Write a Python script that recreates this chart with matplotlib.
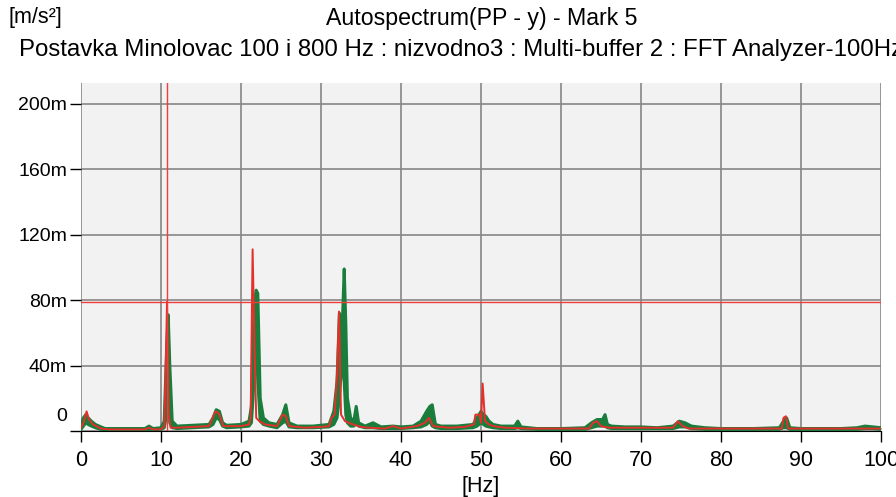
import matplotlib.pyplot as plt
from matplotlib.transforms import ScaledTranslation

plt.rcParams['font.family'] = ['Liberation Sans', 'DejaVu Sans']

# spektar - vise buffera (zeleno), gornja i donja ovojnica, vrijednosti u m (mili m/s2)
green_f = [0, 0.3, 0.6, 0.9, 1.3, 1.8, 2.5, 3.0, 5, 8,
           8.5, 9, 10.0, 10.4, 10.7, 10.9, 11.1, 11.4, 12, 14,
           16, 16.5, 16.9, 17.3, 17.7, 18.2, 20, 21.0, 21.3, 21.5,
           21.7, 21.9, 22.1, 22.4, 22.8, 23.5, 24.5, 25.2, 25.6, 26.0,
           27, 29, 31, 31.6, 32.0, 32.3, 32.5, 32.7, 32.9, 33.1,
           33.3, 33.7, 34.1, 34.4, 34.7, 35.5, 36.5, 37.5, 39, 40,
           41.5, 42.5, 43.2, 43.6, 43.9, 44.3, 45, 47, 49, 49.5,
           50.0, 50.3, 50.6, 51, 51.5, 52.5, 54.2, 54.6, 55, 57,
           60, 63.0, 63.8, 64.5, 65.2, 65.5, 65.8, 66.3, 68, 70,
           72, 74, 74.8, 75.5, 76.3, 78, 80, 84, 87.3, 87.8,
           88.2, 88.6, 90, 95, 97, 98, 99, 100]
green_hi = [4, 8, 10, 8, 6, 4, 2.5, 1.5, 1.5, 1.5,
            3, 1.5, 2, 6, 50, 71, 40, 6, 3, 3.5,
            4, 8, 13, 12, 5, 3.5, 4, 6, 15, 58,
            80, 86, 84, 20, 8, 5, 4, 10, 16, 5,
            3, 3, 4, 12, 30, 72, 68, 70, 99, 65,
            20, 8, 6, 15, 5, 3, 5, 2.5, 3, 2.5,
            3, 6, 12, 15, 16, 4, 3, 3, 4, 8,
            12, 10, 9, 6, 4, 3, 3, 6, 2.5, 1.5,
            1.5, 2, 5, 7, 7, 10, 4, 3, 2.5, 2.5,
            2, 3, 6, 5, 3, 2, 1.5, 1.5, 2, 6,
            8, 2, 1.5, 1.5, 2, 3, 2.5, 2]
green_lo = [1, 3, 5, 4, 3, 2, 1, 0.8, 0.8, 0.8,
            1, 0.8, 1, 2, 10, 30, 5, 2, 1.5, 2,
            2.5, 4, 8, 7, 3, 2, 2.5, 3, 5, 20,
            40, 55, 30, 6, 4, 3, 2, 5, 6, 2.5,
            2, 2, 2.5, 4, 8, 20, 35, 40, 30, 10,
            5, 3, 3, 5, 3, 2, 2, 1.5, 1.5, 1.5,
            2, 2.5, 4, 6, 3, 2, 1.5, 1.5, 2, 3,
            5, 4, 3, 2.5, 2, 1.5, 1.5, 2, 1.5, 1,
            1, 1, 2, 3, 3, 3, 2, 1.5, 1.5, 1.5,
            1.5, 1.5, 2.5, 2.5, 1.5, 1, 1, 1, 1, 2,
            2, 1, 1, 1, 1, 1.5, 1.5, 1]

# prosjek (crveno)
red_f = [0, 0.3, 0.7, 1.0, 1.5, 2.5, 3.5, 8.0, 8.5, 9.0,
         10.0, 10.4, 10.6, 10.75, 10.95, 11.2, 12, 14, 16, 16.8,
         17.2, 17.8, 20, 21.0, 21.2, 21.45, 21.7, 21.9, 22.3, 23,
         24.5, 25.2, 25.6, 26, 28, 30, 31, 31.3, 31.7, 32.0,
         32.25, 32.5, 33, 33.5, 34, 35, 36, 38, 39, 40,
         42, 43, 43.5, 44, 46, 48, 49.1, 49.3, 49.8, 50.0,
         50.2, 50.5, 51, 51.5, 53, 56, 63.5, 64, 64.5, 65,
         66, 74, 74.6, 75.2, 76, 87.6, 87.8, 88.1, 88.4, 100]
red_v = [2, 5, 12, 7, 4, 1.5, 1, 1, 2, 1,
         1, 3, 40, 79, 10, 2, 2, 2.5, 3, 12,
         11, 3, 3, 4, 8, 111, 50, 8, 6, 4,
         3, 10, 9, 3, 2, 2.5, 3, 8, 10, 35,
         73, 10, 6, 5, 4, 2.5, 2, 1.5, 3, 1.5,
         3, 5, 8, 3, 2, 2.5, 4, 10, 10, 5,
         29, 6, 4, 3, 2, 1.5, 1.5, 5, 6, 3,
         2, 2, 6, 3, 1.5, 1.5, 8, 9, 1.5, 1.5]

mark_f = 10.75
mark_v = 79

x_ticks = list(range(0, 101, 10))
y_ticks = [0, 40, 80, 120, 160, 200]
y_labels = ['0', '40m', '80m', '120m', '160m', '200m']

fig = plt.figure(figsize=(8.96, 4.97), dpi=100)
ax = fig.add_axes([0.0904, 0.1328, 0.8929, 0.7002])
ax.set_facecolor('#f2f2f2')

green = '#1a7d3c'
ax.fill_between(green_f, green_lo, green_hi, color=green, lw=0)
ax.plot(green_f, green_hi, color=green, lw=2.2)
ax.plot(green_f, green_lo, color=green, lw=2.2)
ax.plot(red_f, red_v, color='#e3302b', lw=1.4)

# marker (cursor)
ax.axvline(mark_f, color='#f03c3c', lw=1)
ax.axhline(mark_v, color='#f03c3c', lw=1)

ax.set_xlim(0, 100)
ax.set_ylim(0, 212.6)
ax.set_xticks(x_ticks)
ax.set_yticks(y_ticks, y_labels)
ax.grid(True, color='#878787', lw=1.2)
ax.set_axisbelow(True)
for s in ['top', 'right', 'left']:
    ax.spines[s].set_visible(False)
ax.spines['bottom'].set_color('black')
ax.tick_params(length=8, width=1, colors='black')
ax.tick_params(axis='x', labelsize=15.5, pad=6)
ax.tick_params(axis='y', labelsize=14, pad=2)

# oznaka 0 malo podignuta
lab0 = ax.yaxis.get_major_ticks()[0].label1
lab0.set_transform(lab0.get_transform() + ScaledTranslation(0, 16 / 100, fig.dpi_scale_trans))

ax.set_xlabel('[Hz]', fontsize=15.5)
ax.xaxis.set_label_coords(0.5, (431 - 487) / 348)
ax.xaxis.label.set_va('center')

fig.text(8 / 896, 1 - 18 / 497, '[m/s²]', fontsize=15.5, va='center', ha='left')
fig.text(482 / 896, 1 - 18 / 497, 'Autospectrum(PP - y) - Mark 5', fontsize=16.7, va='center', ha='center')
fig.text(19 / 896, 1 - 50 / 497,
         'Postavka Minolovac 100 i 800 Hz : nizvodno3 : Multi-buffer 2 : FFT Analyzer-100Hz',
         fontsize=17.3, va='center', ha='left')

plt.savefig('out.png', dpi=100)
